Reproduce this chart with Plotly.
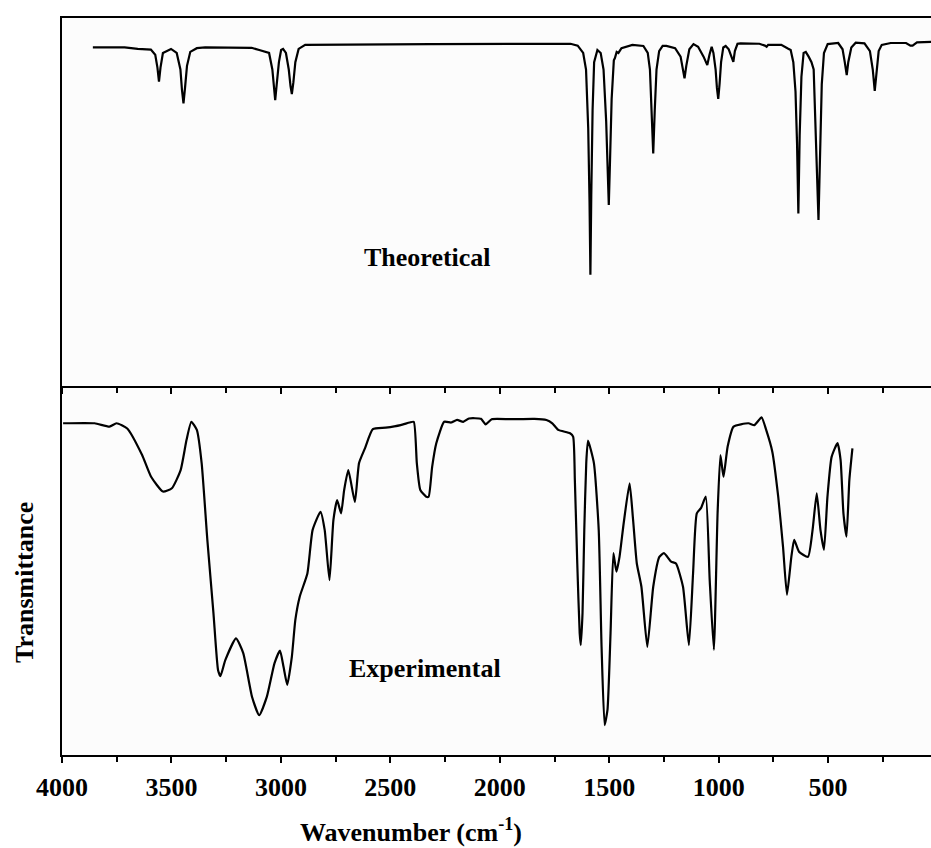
import plotly.graph_objects as go

# ---------------- data ----------------
theo_wavenumber = [3859, 3714, 3654, 3594, 3574, 3564, 3557, 3550, 3539, 3502, 3476, 3459,
                   3452, 3445, 3438, 3429, 3414, 3384, 3346, 3134, 3099, 3054, 3039, 3031,
                   3026, 3019, 3009, 2999, 2990, 2977, 2964, 2956, 2950, 2943, 2934, 2919,
                   2889, 2314, 1714, 1677, 1644, 1619, 1606, 1596, 1590, 1586, 1582, 1576,
                   1569, 1554, 1539, 1526, 1514, 1507, 1502, 1496, 1489, 1479, 1474, 1466,
                   1458, 1444, 1394, 1344, 1324, 1314, 1306, 1299, 1292, 1284, 1272, 1256,
                   1239, 1199, 1174, 1164, 1156, 1148, 1134, 1115, 1094, 1069, 1052, 1042,
                   1032, 1024, 1014, 1008, 1002, 996, 989, 979, 968, 954, 943, 933, 926, 914,
                   900, 814, 789, 781, 774, 714, 684, 671, 659, 649, 642, 636, 630, 622,
                   612, 602, 589, 576, 566, 559, 551, 544, 537, 529, 519, 502, 454, 434,
                   424, 415, 408, 394, 374, 334, 309, 296, 287, 280, 269, 255, 214, 144,
                   124, 114, 94, 0]
theo_transmittance = [92.0, 92.0, 91.6, 91.4, 90.0, 86.5, 82.7, 86.5, 90.5, 91.6, 90.5, 86.0,
                      80.5, 76.8, 81.0, 87.0, 90.8, 91.8, 92.0, 91.9, 91.3, 90.5, 86.0, 80.5,
                      77.7, 82.0, 88.0, 91.3, 91.6, 90.5, 86.0, 81.5, 79.3, 82.5, 88.0, 91.6,
                      92.7, 92.9, 93.1, 93.0, 92.5, 90.5, 86.0, 70.0, 50.0, 30.2, 52.0, 75.0,
                      88.0, 91.3, 90.5, 86.0, 72.0, 58.0, 49.2, 62.0, 78.0, 88.5, 89.1, 90.8,
                      90.5, 91.8, 92.7, 92.4, 90.5, 86.0, 76.0, 63.2, 75.0, 86.0, 91.0, 92.4,
                      92.4, 91.8, 89.5, 86.0, 83.6, 87.0, 91.5, 92.9, 92.2, 89.5, 87.2, 90.0,
                      92.2, 90.5, 86.0, 81.0, 78.0, 82.0, 88.0, 92.0, 92.4, 91.5, 89.5, 88.1,
                      91.0, 93.0, 93.1, 93.0, 92.5, 92.2, 92.7, 92.7, 91.7, 91.3, 88.0, 80.0,
                      66.0, 46.9, 68.0, 84.0, 90.5, 90.8, 89.5, 88.0, 86.0, 75.0, 58.0, 45.1,
                      60.0, 82.0, 90.5, 92.9, 93.2, 91.5, 88.0, 84.5, 88.0, 92.0, 93.3, 93.1,
                      91.0, 86.0, 80.2, 85.0, 91.0, 92.7, 93.2, 93.2, 92.5, 92.5, 93.4, 93.6]

exp_wavenumber = [3995, 3851, 3783, 3751, 3702, 3634, 3593, 3539, 3498, 3458, 3431, 3409,
                  3384, 3362, 3336, 3308, 3287, 3276, 3254, 3205, 3172, 3132, 3099, 3064,
                  3029, 3004, 2988, 2971, 2950, 2934, 2914, 2879, 2855, 2819, 2800, 2778,
                  2760, 2743, 2725, 2711, 2692, 2662, 2643, 2616, 2580, 2521, 2453, 2412,
                  2393, 2379, 2363, 2336, 2325, 2309, 2290, 2254, 2222, 2195, 2167, 2141,
                  2086, 2065, 2037, 1950, 1842, 1787, 1760, 1733, 1679, 1665, 1657, 1646,
                  1635, 1630, 1622, 1614, 1605, 1597, 1570, 1548, 1535, 1521, 1508, 1494,
                  1481, 1467, 1453, 1434, 1407, 1391, 1374, 1353, 1326, 1299, 1271, 1250,
                  1217, 1195, 1163, 1136, 1117, 1100, 1081, 1059, 1041, 1022, 1005, 992,
                  978, 959, 932, 864, 837, 804, 783, 755, 728, 706, 688, 668, 655, 633,
                  592, 571, 552, 535, 519, 503, 484, 457, 443, 430, 416, 403, 389]
exp_transmittance = [89.9, 89.9, 89.0, 89.9, 88.5, 81.3, 75.4, 71.4, 72.3, 77.2, 85.4, 90.3,
                     88.1, 79.1, 58.3, 38.4, 23.0, 21.4, 25.7, 31.6, 27.6, 15.8, 10.8, 15.8,
                     24.9, 28.3, 23.9, 19.0, 26.6, 36.6, 42.9, 49.2, 61.0, 65.9, 61.0, 47.4,
                     63.7, 69.1, 65.5, 71.8, 77.2, 68.6, 79.1, 83.1, 88.3, 88.7, 89.4, 90.1,
                     90.3, 79.1, 71.8, 70.0, 70.0, 78.1, 84.5, 90.3, 90.1, 90.8, 90.3, 91.2,
                     91.1, 89.6, 91.0, 91.0, 91.1, 90.8, 89.9, 88.1, 87.2, 86.3, 74.5, 51.9,
                     33.0, 29.8, 38.4, 61.0, 79.1, 85.2, 79.1, 61.0, 29.3, 8.1, 12.2, 33.0,
                     54.7, 49.7, 53.7, 62.8, 73.6, 63.7, 51.9, 45.6, 29.3, 45.6, 53.7, 54.7,
                     52.4, 51.9, 45.6, 29.8, 49.2, 65.5, 66.9, 70.0, 47.4, 28.5, 65.5, 81.3,
                     75.4, 83.6, 89.0, 89.9, 89.4, 91.5, 88.1, 82.2, 70.0, 56.4, 43.4, 53.7,
                     58.3, 55.1, 53.7, 61.0, 70.9, 61.0, 55.6, 70.0, 80.8, 84.5, 79.9, 65.5,
                     59.2, 74.5, 83.1]

x_tick_values = [4000, 3500, 3000, 2500, 2000, 1500, 1000, 500]
x_tick_labels = ["4000", "3500", "3000", "2500", "2000", "1500", "1000", "500"]

panel_labels = ["Theoretical", "Experimental"]
x_title = "Wavenumber (cm<sup>-1</sup>)"
y_title = "Transmittance"

# ---------------- figure ----------------
FONT = "Liberation Serif"
W, H = 931, 848
ML, MR, MT, MB = 62, 0, 18, 93
split = (755 - 386) / 737

fig = go.Figure()
fig.add_trace(go.Scatter(x=theo_wavenumber, y=theo_transmittance, mode="lines",
                         line=dict(color="black", width=2.2), xaxis="x2", yaxis="y2",
                         name=panel_labels[0], showlegend=False))
fig.add_trace(go.Scatter(x=exp_wavenumber, y=exp_transmittance, mode="lines",
                         line=dict(color="black", width=2.2, shape="spline", smoothing=0.5),
                         xaxis="x", yaxis="y",
                         name=panel_labels[1], showlegend=False))

axis_common = dict(range=[4000, 30], showgrid=False, zeroline=False, showline=True,
                   linecolor="black", linewidth=2, ticks="outside", ticklen=6,
                   tickwidth=2, tickcolor="black", automargin=False,
                   minor=dict(dtick=250, tick0=0, ticks="outside", ticklen=5,
                              tickwidth=2, tickcolor="black"))

fig.update_layout(
    width=W, height=H,
    margin=dict(l=ML, r=MR, t=MT, b=MB),
    paper_bgcolor="#ffffff", plot_bgcolor="#fcfcfc",
    font=dict(family=FONT, color="black", size=26),
    xaxis=dict(**axis_common, anchor="y", tickvals=x_tick_values, ticktext=x_tick_labels,
               tickfont=dict(family=FONT, size=26, weight="bold", color="black"),
               ticklabelstandoff=2),
    xaxis2=dict(**axis_common, anchor="y2", matches="x", showticklabels=False,
                tickvals=x_tick_values, mirror=True),
    yaxis=dict(domain=[0, split], range=[0, 100], showgrid=False, zeroline=False,
               showline=True, linecolor="black", linewidth=2, showticklabels=False,
               ticks="", automargin=False),
    yaxis2=dict(domain=[split, 1], range=[0, 100], showgrid=False, zeroline=False,
                showline=True, linecolor="black", linewidth=2, showticklabels=False,
                ticks="", automargin=False),
)

def px_to_paper_x(px):
    return (px - ML) / (W - ML - MR)

def px_to_paper_y(py):
    return (H - MB - py) / (H - MT - MB)

label_font = dict(family=FONT, size=26, weight="bold", color="black")
fig.add_annotation(text=panel_labels[0], xref="paper", yref="paper",
                   x=px_to_paper_x(427), y=px_to_paper_y(257), showarrow=False,
                   xanchor="center", yanchor="middle", font=label_font)
fig.add_annotation(text=panel_labels[1], xref="paper", yref="paper",
                   x=px_to_paper_x(425), y=px_to_paper_y(668), showarrow=False,
                   xanchor="center", yanchor="middle", font=label_font)
fig.add_annotation(text=x_title, xref="paper", yref="paper",
                   x=px_to_paper_x(411), y=px_to_paper_y(830), showarrow=False,
                   xanchor="center", yanchor="middle", font=label_font)
fig.add_annotation(text=y_title, xref="paper", yref="paper", textangle=-90,
                   x=px_to_paper_x(24), y=px_to_paper_y(583), showarrow=False,
                   xanchor="center", yanchor="middle", font=label_font)

fig.write_html("out.html",
               config={"displayModeBar": False},
               post_script="document.body.style.margin='0px';"
                           "document.body.style.overflow='hidden';")
